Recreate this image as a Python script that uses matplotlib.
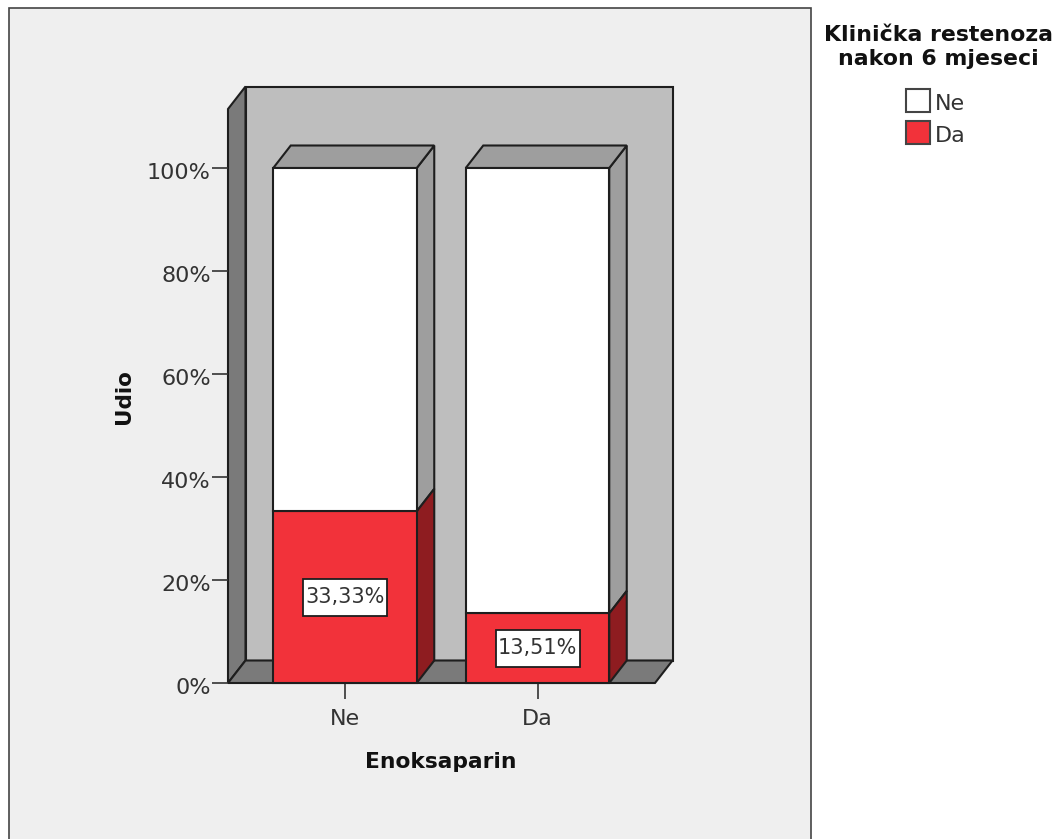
import matplotlib
matplotlib.use("Agg")
import matplotlib.pyplot as plt
from matplotlib.patches import Polygon, Rectangle
from matplotlib.transforms import ScaledTranslation

plt.rcParams['font.family'] = ['DejaVu Sans']

categories = ["Ne", "Da"]
da_values = [33.33, 13.51]
ne_values = [66.67, 86.49]
bar_labels = ["33,33%", "13,51%"]
y_ticks = [0, 20, 40, 60, 80, 100]
y_tick_labels = ["0%", "20%", "40%", "60%", "80%", "100%"]
legend_labels = ["Ne", "Da"]

W, H = 1057, 839
RED = "#F2323A"
DARKRED = "#8E1C20"
WALL = "#BEBEBE"
SIDE = "#7A7A7A"
BARTOP = "#9E9E9E"
EDGE = "#1E1E1E"
TXT = "#333333"

fig = plt.figure(figsize=(W / 100, H / 100), dpi=100, facecolor="white")

# grey panel behind the chart, runs off the bottom of the picture
panel = Rectangle((9 / W, -0.02), 802 / W, 1.02 - 8 / H, transform=fig.transFigure,
                  facecolor="#EFEFEF", edgecolor="#444444", linewidth=1.2, zorder=-1)
fig.add_artist(panel)

# front plane of the box in pixels
left, right, bottom, top = 228, 655, 683, 109
ax = fig.add_axes([left / W, 1 - bottom / H, (right - left) / W, (bottom - top) / H])
ax.patch.set_visible(False)
px_x = 192.5  # pixels between categories
px_y = 5.15   # pixels per percent
ax.set_xlim((left - 345) / px_x, (right - 345) / px_x)
ax.set_ylim(0, (bottom - top) / px_y)
for s in ax.spines.values():
    s.set_visible(False)

dx = 17.5 / px_x
dy = 22.5 / px_y
x0, x1 = ax.get_xlim()
y1 = ax.get_ylim()[1]


def poly(pts, color, z=2):
    ax.add_patch(Polygon(pts, closed=True, facecolor=color, edgecolor=EDGE,
                         linewidth=1.5, joinstyle="miter", clip_on=False, zorder=z))


# back wall, left wall, floor
poly([(x0 + dx, dy), (x1 + dx, dy), (x1 + dx, y1 + dy), (x0 + dx, y1 + dy)], WALL, 1)
poly([(x0, 0), (x0 + dx, dy), (x0 + dx, y1 + dy), (x0, y1)], SIDE, 1)
poly([(x0, 0), (x1, 0), (x1 + dx, dy), (x0 + dx, dy)], SIDE, 1)

bar_w = 143.5 / px_x
box_w = 84 / px_x
box_h = 37 / px_y
for i in range(len(categories)):
    l = i - bar_w / 2
    r = i + bar_w / 2
    da = da_values[i]
    total = da + ne_values[i]
    # depth faces first
    poly([(r, da), (r + dx, da + dy), (r + dx, total + dy), (r, total)], BARTOP, 3)
    poly([(r, 0), (r + dx, dy), (r + dx, da + dy), (r, da)], DARKRED, 3)
    poly([(l, total), (l + dx, total + dy), (r + dx, total + dy), (r, total)], BARTOP, 3)
    ax.bar(i, da, width=bar_w, color=RED, edgecolor=EDGE, linewidth=1.5, zorder=4, clip_on=False)
    ax.bar(i, ne_values[i], bottom=da, width=bar_w, color="white", edgecolor=EDGE, linewidth=1.5, zorder=4)
    ax.add_patch(Rectangle((i - box_w / 2, da / 2 - box_h / 2), box_w, box_h, facecolor="white",
                           edgecolor=EDGE, linewidth=1.3, zorder=5))
    ax.text(i, da / 2, bar_labels[i], ha="center", va="center", fontsize=15, color=TXT, zorder=6)

ax.set_xticks(range(len(categories)))
ax.set_xticklabels(categories, fontsize=16, color=TXT)
ax.set_yticks(y_ticks)
ax.set_yticklabels(y_tick_labels, fontsize=16, color=TXT)
ax.tick_params(axis="both", length=11.5, width=1.2, color="#333333", pad=1)
ax.tick_params(axis="x", pad=7)
# the y labels sit a little below their ticks in the original
shift = ScaledTranslation(0, -3 / 100, fig.dpi_scale_trans)
for lab in ax.get_yticklabels():
    lab.set_transform(lab.get_transform() + shift)

fig.text(124 / W, 1 - 397 / H, "Udio", rotation=90, ha="center", va="center", fontsize=15.5, fontweight="bold", color="#111111")
fig.text(441 / W, 1 - 762 / H, "Enoksaparin", ha="center", va="center", fontsize=15.7, fontweight="bold", color="#111111")
fig.text(938 / W, 1 - 47 / H, "Klinička restenoza\nnakon 6 mjeseci", ha="center", va="center", fontsize=15.8,
         fontweight="bold", color="#111111", linespacing=1.22)

# legend swatches
for k, (lab, col) in enumerate(zip(legend_labels, ["white", RED])):
    yc = 100 + k * 32
    fig.add_artist(Rectangle((906 / W, 1 - (yc + 12) / H), 24 / W, 23 / H, transform=fig.transFigure,
                             facecolor=col, edgecolor="#444444", linewidth=1.5))
    fig.text(935 / W, 1 - (yc + 4) / H, lab, ha="left", va="center", fontsize=16, color=TXT)

fig.savefig("out.png", dpi=100)
